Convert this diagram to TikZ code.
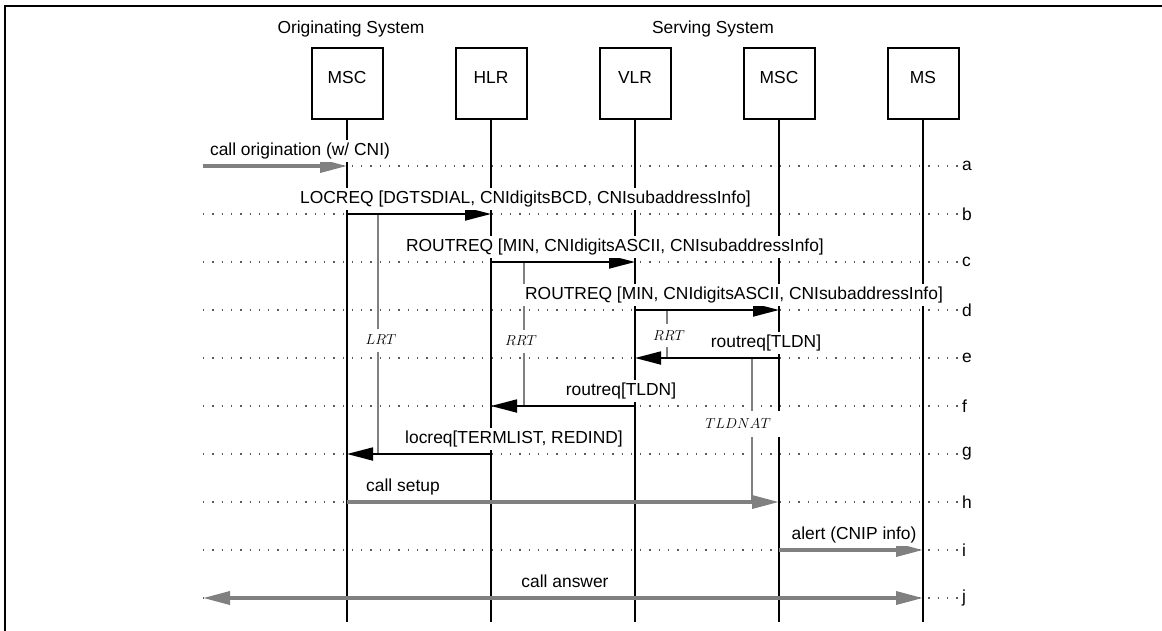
\documentclass[tikz,border=0pt]{standalone}
\usepackage{fontspec}
\setsansfont{Liberation Sans}
\usetikzlibrary{arrows.meta}
\definecolor{gr}{RGB}{128,128,128}
\definecolor{dotc}{RGB}{90,90,90}
\begin{document}
\begin{tikzpicture}[x=1pt,y=-1pt,
  font=\sffamily\fontsize{17.4}{20}\selectfont,
  entity/.style={draw,line width=2pt,minimum width=71pt,minimum height=71pt,inner sep=0pt,text depth=12pt},
  header/.style={inner sep=0pt},
  lifeline/.style={line width=1.8pt},
  dotline/.style={dotc,line width=1.3pt,dash pattern=on 1.3pt off 8pt},
  rowlbl/.style={anchor=west,inner sep=0pt},
  msg/.style={line width=1.8pt,-{Triangle[length=26pt,width=13pt]}},
  gmsg/.style={gr,line width=3.5pt,-{Triangle[length=27pt,width=13pt]}},
  gmsgboth/.style={gr,line width=3.5pt,{Triangle[length=27pt,width=13pt]}-{Triangle[length=27pt,width=13pt]}},
  mlbl/.style={anchor=base,fill=white,inner xsep=2pt,inner ysep=2.5pt},
  timer/.style={gr,line width=1.8pt},
  tlbl/.style={fill=white,inner xsep=3pt,inner ysep=0pt,minimum height=23pt,font=\rmfamily\fontsize{14.4}{17}\selectfont}
]
\useasboundingbox (0,0) rectangle (1162,630);
% frame
\draw[line width=2pt] (5,631) -- (5,6) -- (1163,6);

% headers
\node[header] (orig) at (351,29) {Originating System};
\node[header] (serv) at (713,29) {Serving System};

% entities
\node[entity] (msc1) at (347,83.5) {MSC};
\node[entity] (hlr)  at (491,83.5) {HLR};
\node[entity] (vlr)  at (635,83.5) {VLR};
\node[entity] (msc2) at (779,83.5) {MSC};
\node[entity] (ms)   at (923,83.5) {MS};

% row coordinates
\coordinate (ra) at (0,166);
\coordinate (rb) at (0,214);
\coordinate (rc) at (0,262);
\coordinate (rd) at (0,310);
\coordinate (re) at (0,358);
\coordinate (rf) at (0,406);
\coordinate (rg) at (0,454);
\coordinate (rh) at (0,502);
\coordinate (ri) at (0,550);
\coordinate (rj) at (0,598);
\coordinate (bot) at (0,622);
\coordinate (lft) at (203,0);
\coordinate (rgt) at (958,0);

% dotted rows and row letters
\foreach \r/\l in {ra/a,rb/b,rc/c,rd/d,re/e,rf/f,rg/g,rh/h,ri/i,rj/j}{
  \draw[dotline] (lft |- \r) -- (rgt |- \r);
  \node[rowlbl] (lab\l) at ([xshift=4pt]rgt |- \r) {\l};
}

% lifelines
\foreach \n in {msc1,hlr,vlr,msc2,ms}{
  \draw[lifeline] (\n.south) -- (\n |- bot);
}

% timer lines
\coordinate (lrtx) at (378,0);
\coordinate (rrtx) at (524,0);
\coordinate (rrtv) at (667,0);
\coordinate (tldx) at (751.7,0);
\draw[timer] (lrtx |- rb) -- (lrtx |- rg);
\draw[timer] (rrtx |- rc) -- (rrtx |- rf);
\draw[timer] (rrtv |- rd) -- (rrtv |- re);
\draw[timer] (tldx |- re) -- (tldx |- rh);

% messages
\draw[gmsg] (lft |- ra) -- (msc1 |- ra);
\draw[msg] (msc1 |- rb) -- (hlr |- rb);
\draw[msg] (hlr |- rc) -- (vlr |- rc);
\draw[msg] (vlr |- rd) -- (msc2 |- rd);
\draw[msg] (msc2 |- re) -- (vlr |- re);
\draw[msg] (vlr |- rf) -- (hlr |- rf);
\draw[msg] (hlr |- rg) -- (msc1 |- rg);
\draw[gmsg] (msc1 |- rh) -- (msc2 |- rh);
\draw[gmsg] (msc2 |- ri) -- (ms |- ri);
\draw[gmsgboth] (lft |- rj) -- (ms |- rj);

% message labels
\node[mlbl] (ma) at (300,155.5) {call origination (w/ CNI)};
\node[mlbl] (mb) at (525.5,203.5) {LOCREQ [DGTSDIAL, CNIdigitsBCD, CNIsubaddressInfo]};
\node[mlbl] (mc) at (615,251.5) {ROUTREQ [MIN, CNIdigitsASCII, CNIsubaddressInfo]};
\node[mlbl] (md) at (734,299.5) {ROUTREQ [MIN, CNIdigitsASCII, CNIsubaddressInfo]};
\node[mlbl] (me) at (766,347.5) {routreq[TLDN]};
\node[mlbl] (mf) at (621,395.5) {routreq[TLDN]};
\node[mlbl] (mg) at (514,443.5) {locreq[TERMLIST, REDIND]};
\node[mlbl] (mh) at (403,491.5) {call setup};
\node[mlbl] (mi) at (854,539.5) {alert (CNIP info)};
\node[mlbl] (mj) at (565,587.5) {call answer};

% timer labels
\node[tlbl] (lrt) at (381,340) {$LRT$};
\node[tlbl] (rrt1) at (521,341) {$RRT$};
\node[tlbl] (rrt2) at (669,335.5) {$RRT$};
\node[tlbl,minimum width=84pt,minimum height=26pt] (tldnat) at (738,423.5) {$TLDNAT$};
\end{tikzpicture}
\end{document}
